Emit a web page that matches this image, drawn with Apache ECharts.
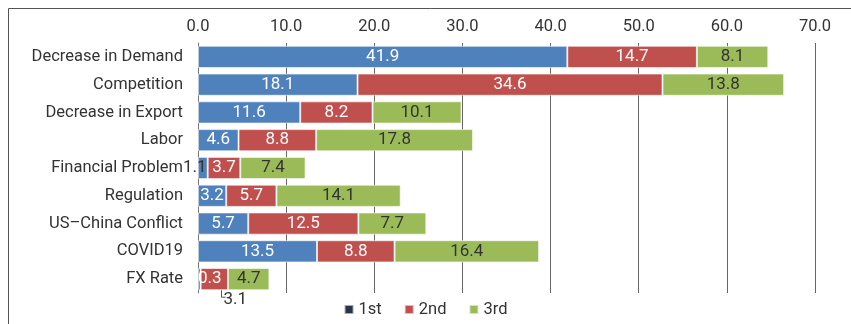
<!DOCTYPE html>
<html>
<head>
<meta charset="utf-8">
<script src="https://cdn.jsdelivr.net/npm/echarts@6/dist/echarts.min.js"></script>
<style>
  html, body { margin: 0; padding: 0; background: #fff; }
  #chart { width: 851px; height: 324px; }
</style>
</head>
<body>
<div id="chart"></div>
<script>
// Causes of difficulty, ranked 1st / 2nd / 3rd (%)
const categories = ['Decrease in Demand', 'Competition', 'Decrease in Export', 'Labor',
  'Financial Problem', 'Regulation', 'US\u2013China Conflict', 'COVID19', 'FX Rate'];
const first  = [41.9, 18.1, 11.6, 4.6, 1.1, 3.2, 5.7, 13.5, 0.3];
const second = [14.7, 34.6, 8.2, 8.8, 3.7, 5.7, 12.5, 8.8, 3.1];
const third  = [8.1, 13.8, 10.1, 17.8, 7.4, 14.1, 7.7, 16.4, 4.7];
const xTicks = { min: 0, max: 70, interval: 10 };

const FONT = 'Roboto, "Noto Sans", sans-serif';
const FS = 16.5;   // axis and legend text
const VS = 17;     // value labels on the bars
const TEXT = '#333';

function makeData(values, special) {
  return values.map((v, i) => special[i] ? { value: v, label: special[i] } : v);
}

const chart = echarts.init(document.getElementById('chart'));
chart.setOption({
  animation: false,
  textStyle: { fontFamily: FONT },
  graphic: [{
    id: 'frame',
    type: 'rect',
    shape: { x: 8.5, y: 8.5, width: 900, height: 400 },
    style: { fill: 'none', stroke: '#555', lineWidth: 1 },
    silent: true
  }],
  grid: { left: 198, right: 36, top: 43, bottom: 31 },
  legend: {
    bottom: 1,
    left: 'center',
    itemWidth: 9,
    itemHeight: 9,
    itemGap: 22,
    icon: 'rect',
    textStyle: { fontSize: FS, color: TEXT, fontFamily: FONT },
    data: [
      { name: '1st', itemStyle: { color: '#27344a' } },
      { name: '2nd' },
      { name: '3rd' }
    ]
  },
  xAxis: {
    type: 'value',
    position: 'top',
    min: xTicks.min, max: xTicks.max, interval: xTicks.interval,
    axisLabel: {
      formatter: v => v.toFixed(1),
      fontSize: FS, color: TEXT, fontFamily: FONT, margin: 8
    },
    axisLine: { show: false },
    axisTick: { show: false },
    splitLine: { show: true, lineStyle: { color: '#666', width: 1 } }
  },
  yAxis: {
    type: 'category',
    inverse: true,
    data: categories,
    axisLabel: { fontSize: FS, color: TEXT, fontFamily: FONT, margin: 15 },
    axisLine: { show: true, lineStyle: { color: '#777', width: 1 } },
    axisTick: { show: false }
  },
  series: [
    {
      name: '1st', type: 'bar', stack: 'total', barWidth: '80%',
      itemStyle: { color: '#4f81bd', borderColor: 'rgba(255,255,255,0.6)', borderWidth: 1 },
      label: { show: true, position: 'inside', color: '#fff', fontSize: VS, fontFamily: FONT },
      data: makeData(first, {
        4: { show: true, position: 'inside', offset: [-8, 0], color: TEXT },
        8: { show: true, position: 'insideLeft', distance: 0, color: '#fff' }
      })
    },
    {
      name: '2nd', type: 'bar', stack: 'total',
      itemStyle: { color: '#c0504d', borderColor: 'rgba(255,255,255,0.6)', borderWidth: 1 },
      label: { show: true, position: 'inside', color: '#fff', fontSize: VS, fontFamily: FONT },
      data: makeData(second, {
        8: { show: true, position: 'bottom', distance: 1, offset: [21, 0], color: TEXT }
      })
    },
    {
      name: '3rd', type: 'bar', stack: 'total',
      itemStyle: { color: '#9bbb59', borderColor: 'rgba(255,255,255,0.6)', borderWidth: 1 },
      label: { show: true, position: 'inside', color: '#333', fontSize: VS, fontFamily: FONT },
      data: third
    }
  ]
});

// Leader line from the small FX Rate "2nd" segment down to its displaced label
const fxIdx = categories.length - 1;
const anchor = chart.convertToPixel({ gridIndex: 0 },
  [first[fxIdx] + second[fxIdx] * 0.75, categories[fxIdx]]);
const band = chart.getModel().getComponent('yAxis', 0).axis.getBandWidth();
const x0 = Math.round(anchor[0]) + 0.5;
const yTop = anchor[1] + band * 0.4;
chart.setOption({
  graphic: [{
    id: 'fxLeader',
    type: 'polyline',
    shape: { points: [[x0, yTop], [x0, yTop + 7], [x0 + 4, yTop + 7]] },
    style: { stroke: '#555', lineWidth: 1, fill: null },
    silent: true
  }]
});
</script>
</body>
</html>
